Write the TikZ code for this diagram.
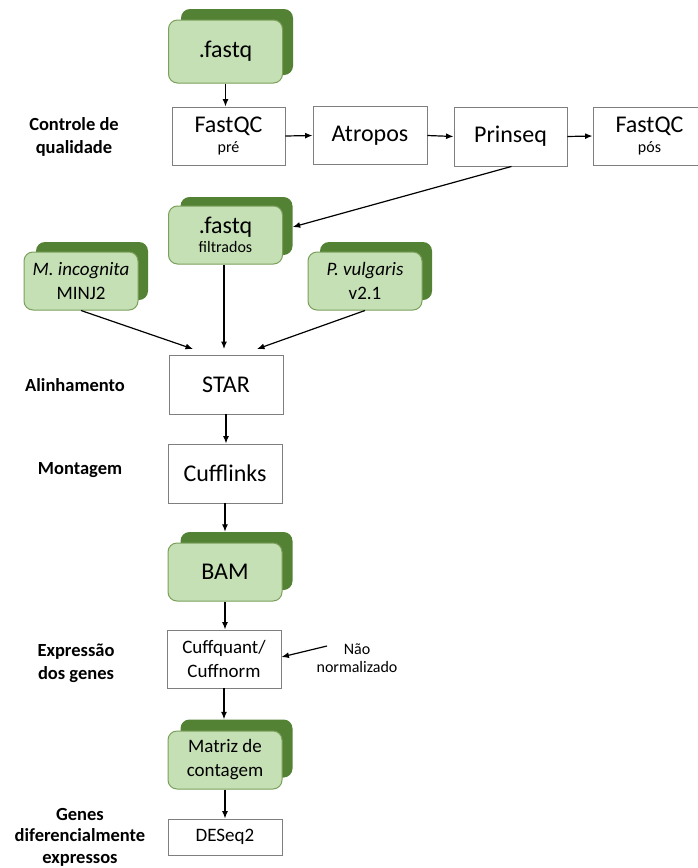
\documentclass[tikz,border=0pt]{standalone}
\usepackage{fontspec}
\setmainfont{Carlito}
\usetikzlibrary{arrows.meta}
\definecolor{lgreen}{HTML}{C5E0B4}
\definecolor{dgreen}{HTML}{548235}
\definecolor{bgreen}{HTML}{7BA05B}
\definecolor{gbox}{HTML}{7F7F7F}
\tikzset{
  fbox/.style={draw=gbox, line width=0.9pt, fill=white, minimum width=113pt, minimum height=58pt, inner sep=0pt, align=center},
  gfront/.style={draw=bgreen, line width=1pt, fill=lgreen, rounded corners=9pt, minimum width=114pt, minimum height=58pt, inner sep=0pt, align=center},
  gback/.style={fill=dgreen, rounded corners=9pt, minimum width=112pt, minimum height=58pt, inner sep=0pt},
  lab/.style={font=\fontsize{18.5}{23}\selectfont\bfseries, align=center},
  big/.style={font=\fontsize{24}{26}\selectfont},
  arr/.style={-{Latex[length=7.5pt,width=6pt]}, line width=1.2pt, black},
}
\newcommand{\sm}{\fontsize{16}{18}\selectfont}
\newcommand{\md}{\fontsize{19}{24}\selectfont}
\begin{document}
\begin{tikzpicture}[x=1pt,y=-1pt]
\useasboundingbox (0,0) rectangle (697,868);
% green stacked nodes
\node[gback, minimum height=66pt] (fqB) at (237,42) {};
\node[gfront, minimum height=63pt, big] (fq) at (225.5,51.5) {.fastq};

\node[gback] (filtB) at (236.5,226) {};
\node[gfront] (filt) at (225.5,235) {\fontsize{24}{26}\selectfont .fastq\\[3pt]\sm filtrados};

\node[gback] (mincB) at (92,271) {};
\node[gfront, font=\md] (minc) at (81,281) {\itshape M. incognita\\MINJ2};

\node[gback] (pvulB) at (376,271) {};
\node[gfront, font=\md] (pvul) at (365,281) {\itshape P. vulgaris\\v2.1};

\node[gback] (bamB) at (236.5,561) {};
\node[gfront, big] (bam) at (225,572) {BAM};

\node[gback] (matB) at (236.5,748.5) {};
\node[gfront, font=\md] (mat) at (225,760) {Matriz de\\contagem};

% white boxes
\node[fbox] (qc1) at (228.5,136) {\fontsize{24}{26}\selectfont FastQC\\[4pt]\sm pré};
\node[fbox, big, minimum width=114pt] (atr) at (370,135.5) {Atropos};
\node[fbox, big, minimum height=59pt] (prin) at (510.5,136.5) {Prinseq};
\node[fbox] (qc2) at (649.5,136) {\fontsize{24}{26}\selectfont FastQC\\[4pt]\sm pós};

\node[fbox, big, minimum width=114pt, minimum height=59pt] (star) at (226,384.5) {STAR};
\node[fbox, big, minimum width=114pt, minimum height=59pt] (cuff) at (225,473.5) {Cufflinks};
\node[fbox, font=\md, minimum width=114pt] (cq) at (224,659) {Cuffquant/\\Cuffnorm};
\node[fbox, font=\md, minimum width=114pt, minimum height=36pt] (deseq) at (225,837) {DESeq2};

\node[font=\sm, align=center] (nao) at (357,658) {Não\\normalizado};

% labels
\node[lab] (l1) at (74,136.5) {Controle de\\qualidade};
\node[lab] (l2) at (75,385) {Alinhamento};
\node[lab] (l3) at (80,470) {Montagem};
\node[lab] (l4) at (76,663.5) {Expressão\\dos genes};
\node[lab, font=\fontsize{18.5}{21.5}\selectfont\bfseries] (l5) at (80,837) {Genes\\diferencialmente\\expressos};

% arrows
\draw[arr] (fq.south) -- (fq.south |- qc1.north);
\draw[arr] (qc1.east) -- (atr.west);
\draw[arr] (atr.east) -- (prin.west);
\draw[arr] (prin.east) -- (qc2.west);
\draw[arr] ([xshift=1pt]prin.south) -- ([yshift=-1pt]filtB.east);
\coordinate (s1) at (193,349);
\coordinate (s2) at (224,349);
\coordinate (s3) at (257,349);
\draw[arr] (minc.south) -- (s1);
\draw[arr] (filt.south -| s2) -- (s2);
\draw[arr] (pvul.south) -- (s3);
\draw[arr] (star.south) -- (star.south |- cuff.north);
\draw[arr] (cuff.south) -- (cuff.south |- bamB.north);
\draw[arr] (bam.south) -- (bam.south |- cq.north);
\draw[arr] (cq.south) -- (cq.south |- matB.north);
\draw[arr] (mat.south) -- (mat.south |- deseq.north);
\draw[arr] (327,646) -- ([yshift=2pt]cq.east);
\end{tikzpicture}
\end{document}
